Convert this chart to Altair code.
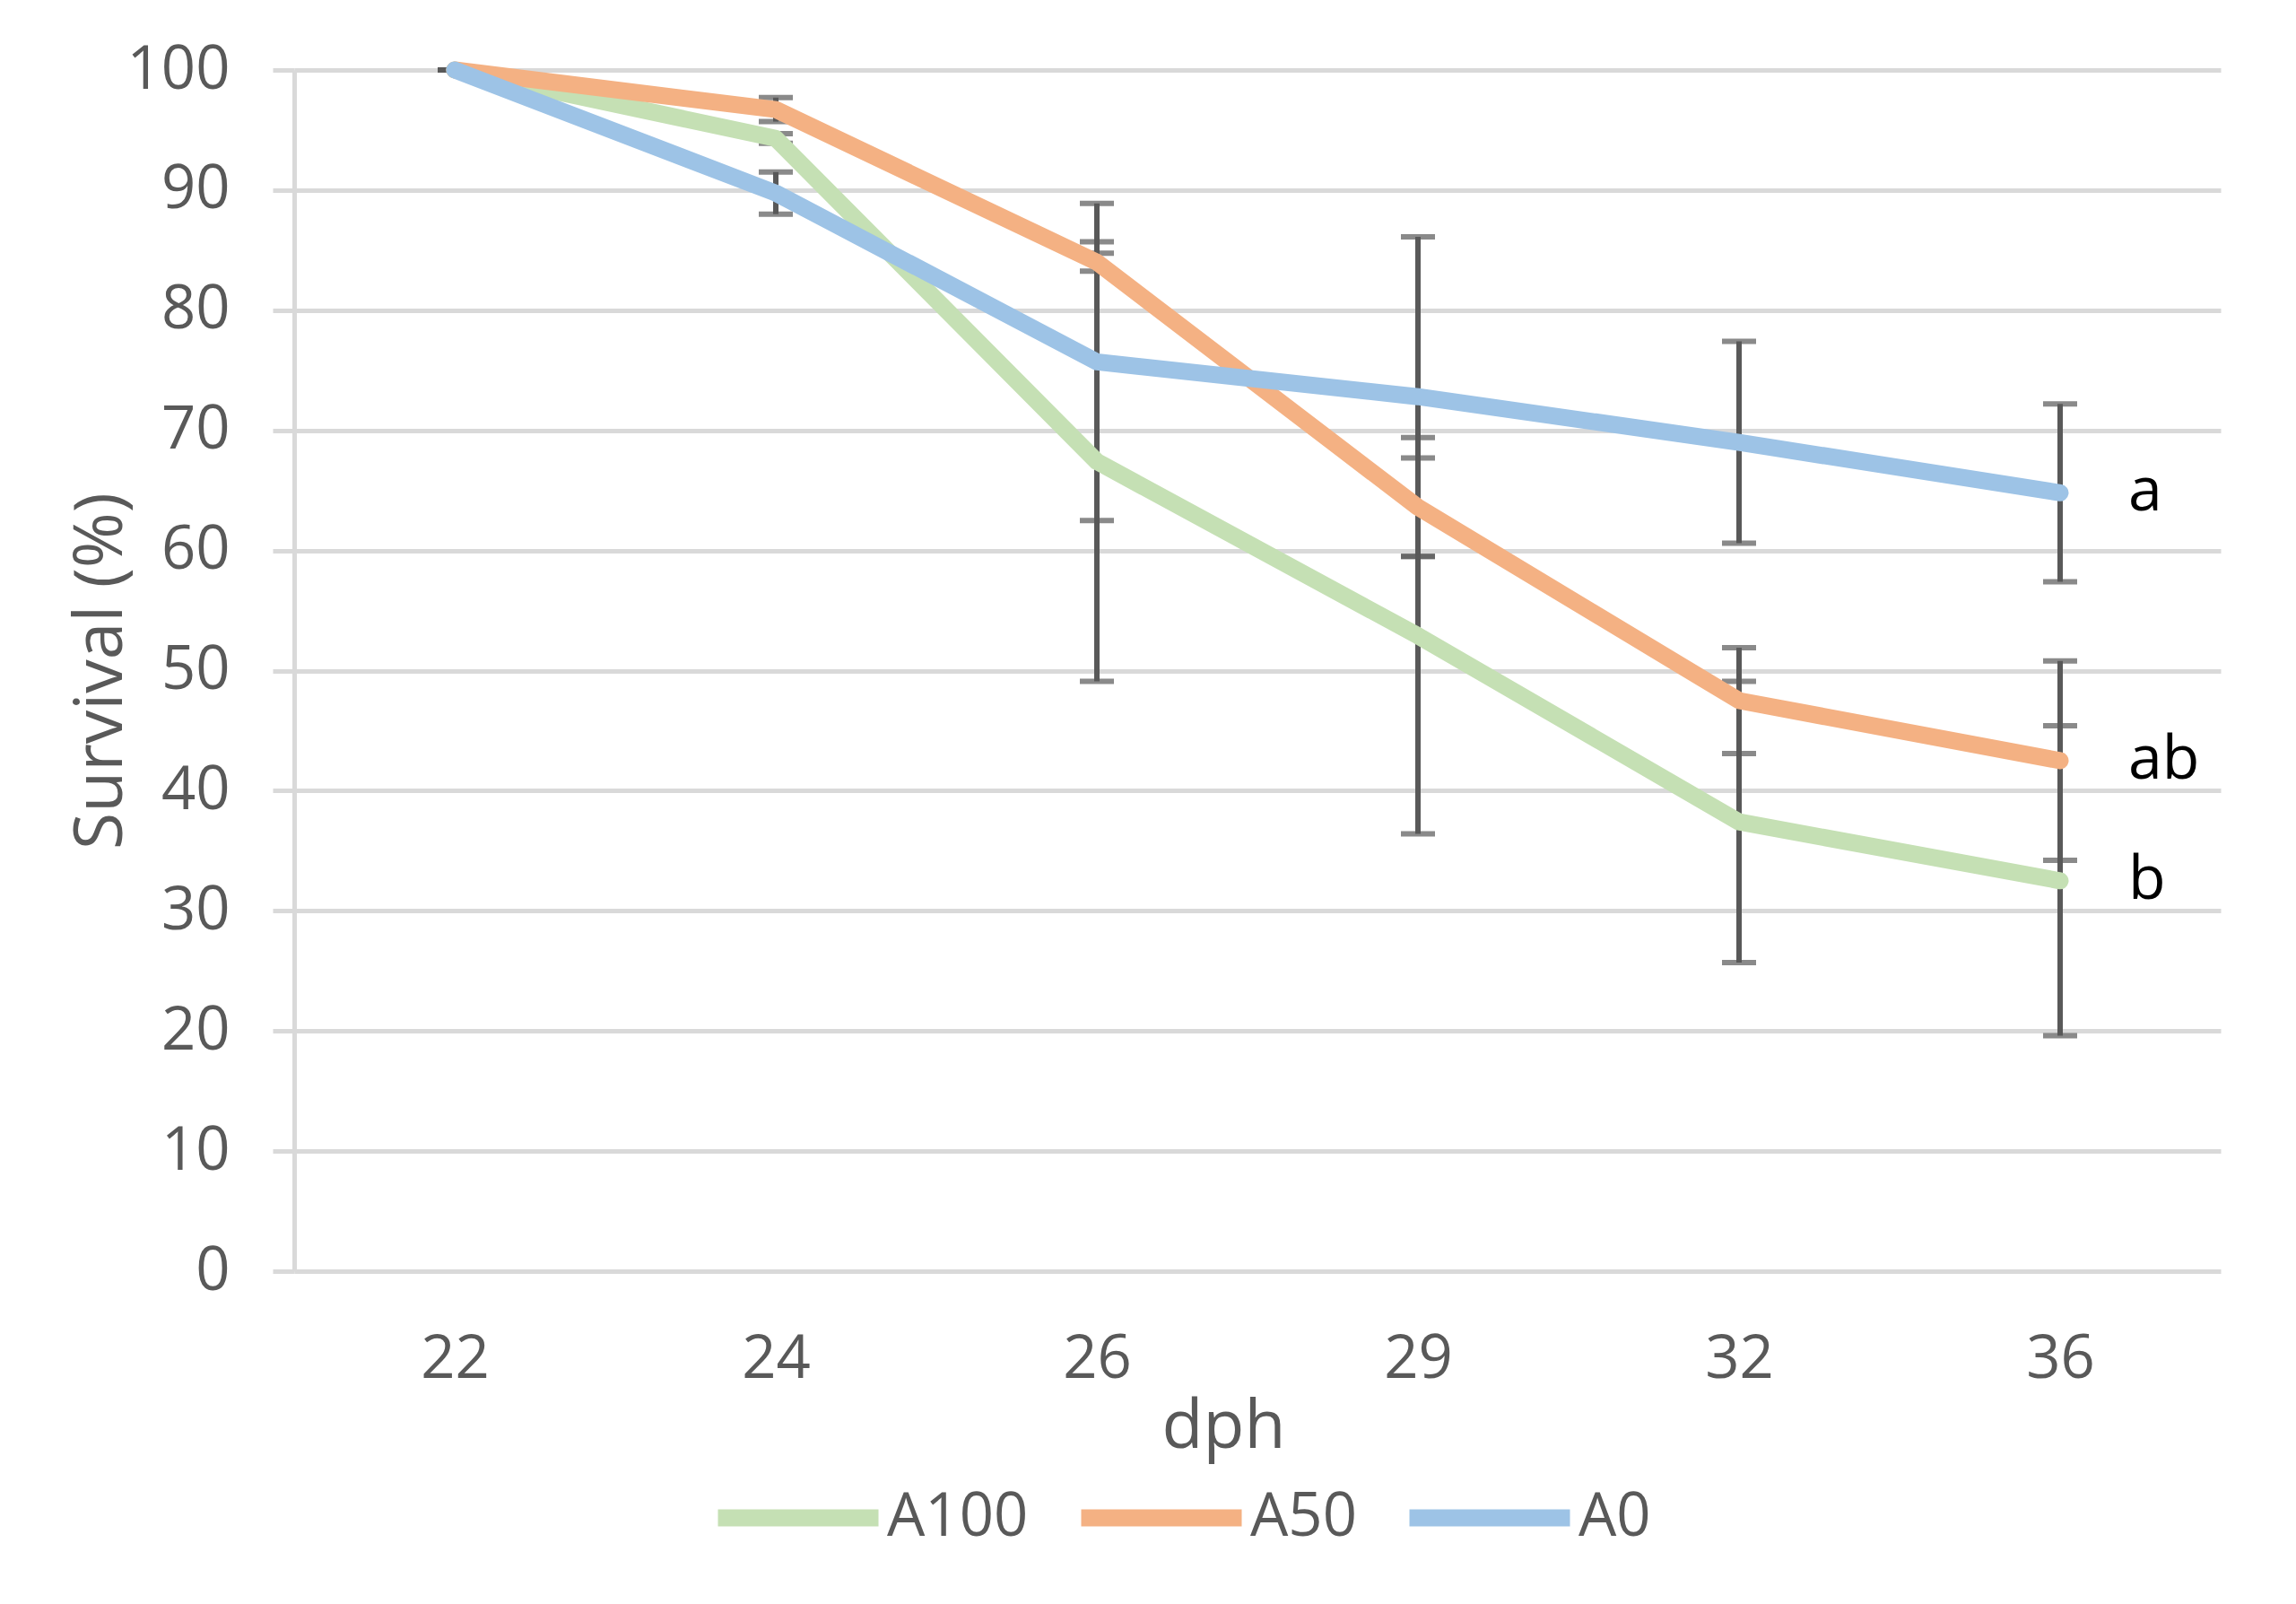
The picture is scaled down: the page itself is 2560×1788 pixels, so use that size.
import altair as alt
import pandas as pd

days = ["22", "24", "26", "29", "32", "36"]
series = ["A100", "A50", "A0"]
colors = ["#C5E0B4", "#F4B183", "#9DC3E6"]

a100 = [100, 94.3, 67.4, 52.9, 37.4, 32.5]
a100_err = [0, 0.4, 18.3, 16.5, 11.7, 12.9]
a50 = [100, 96.7, 84.0, 63.6, 47.5, 42.5]
a50_err = [0, 1.0, 0.75, 4.1, 4.4, 8.3]
a0 = [100, 89.75, 75.7, 72.8, 69.0, 64.8]
a0_err = [0, 1.75, 13.2, 13.3, 8.4, 7.4]
letters = ["b", "ab", "a"]

rows = []
for name, vals, errs in zip(series, [a100, a50, a0], [a100_err, a50_err, a0_err]):
    for d, v, e in zip(days, vals, errs):
        rows.append({"day": d, "series": name, "value": v, "lo": v - e, "hi": v + e})
df = pd.DataFrame(rows)

lab = pd.DataFrame({
    "day": [days[-1]] * 3,
    "series": series,
    "value": [a100[-1], a50[-1], a0[-1]],
    "letter": letters,
})

FONT = "Open Sans"
GREY = "#595959"
GRID = "#D9D9D9"

x_axis = alt.Axis(
    title="dph", labelAngle=0, labelFont=FONT, labelFontSize=67, labelColor=GREY,
    labelPadding=118, labelBaseline="alphabetic", ticks=False, domain=False, grid=False,
    titleFont=FONT, titleFontSize=75, titleColor=GREY, titleFontWeight="normal",
    titleX=1036, titleY=196, titleBaseline="alphabetic",
)
y_axis = alt.Axis(
    title="Survival (%)", values=list(range(0, 101, 10)), labelFont=FONT, labelFontSize=67,
    labelColor=GREY, labelPadding=48, tickSize=24, tickColor=GRID, tickWidth=5,
    domainColor=GRID, domainWidth=5, grid=True, gridColor=GRID, gridWidth=5,
    titleFont=FONT, titleFontSize=75, titleColor=GREY, titleFontWeight="normal",
    titleX=-193, titleBaseline="alphabetic", titleAngle=270,
)

xenc = alt.X("day:O", sort=days, scale=alt.Scale(type="point", padding=0.5), axis=x_axis)
yscale = alt.Scale(domain=[0, 100], nice=False, zero=True)

base = alt.Chart(df)

rules = base.mark_rule(color=GREY, strokeWidth=6).encode(
    x=xenc, y=alt.Y("lo:Q", scale=yscale, axis=y_axis), y2="hi:Q"
)
cap_hi = base.mark_tick(color=GREY, thickness=6, size=38).encode(
    x=xenc, y=alt.Y("hi:Q", scale=yscale, axis=y_axis)
)
cap_lo = base.mark_tick(color=GREY, thickness=6, size=38).encode(
    x=xenc, y=alt.Y("lo:Q", scale=yscale, axis=y_axis)
)
lines = base.mark_line(strokeWidth=19, strokeCap="round", strokeJoin="round").encode(
    x=xenc,
    y=alt.Y("value:Q", scale=yscale, axis=y_axis),
    color=alt.Color(
        "series:N",
        scale=alt.Scale(domain=series, range=colors),
        sort=series,
        legend=alt.Legend(
            orient="none", legendX=463, legendY=1515, direction="horizontal", title=None,
            labelFont=FONT, labelFontSize=67, labelColor=GREY, symbolType="stroke",
            symbolSize=32041, symbolStrokeWidth=19, labelOffset=0, columnPadding=20,
        ),
    ),
    detail="series:N",
)
texts = alt.Chart(lab).mark_text(
    align="left", baseline="middle", dx=76, fontSize=68, font=FONT, color="black"
).encode(
    x=xenc, y=alt.Y("value:Q", scale=yscale, axis=y_axis), text="letter:N"
)

chart = alt.layer(rules, cap_hi, cap_lo, lines, texts).properties(
    width=2148, height=1339,
    padding={"left": 320, "top": 70, "right": 76, "bottom": 362},
    autosize=alt.AutoSizeParams(type="none"),
    background="white",
).configure_view(stroke=None)

chart.save("out.html", embed_options={"renderer": "svg", "actions": False})
